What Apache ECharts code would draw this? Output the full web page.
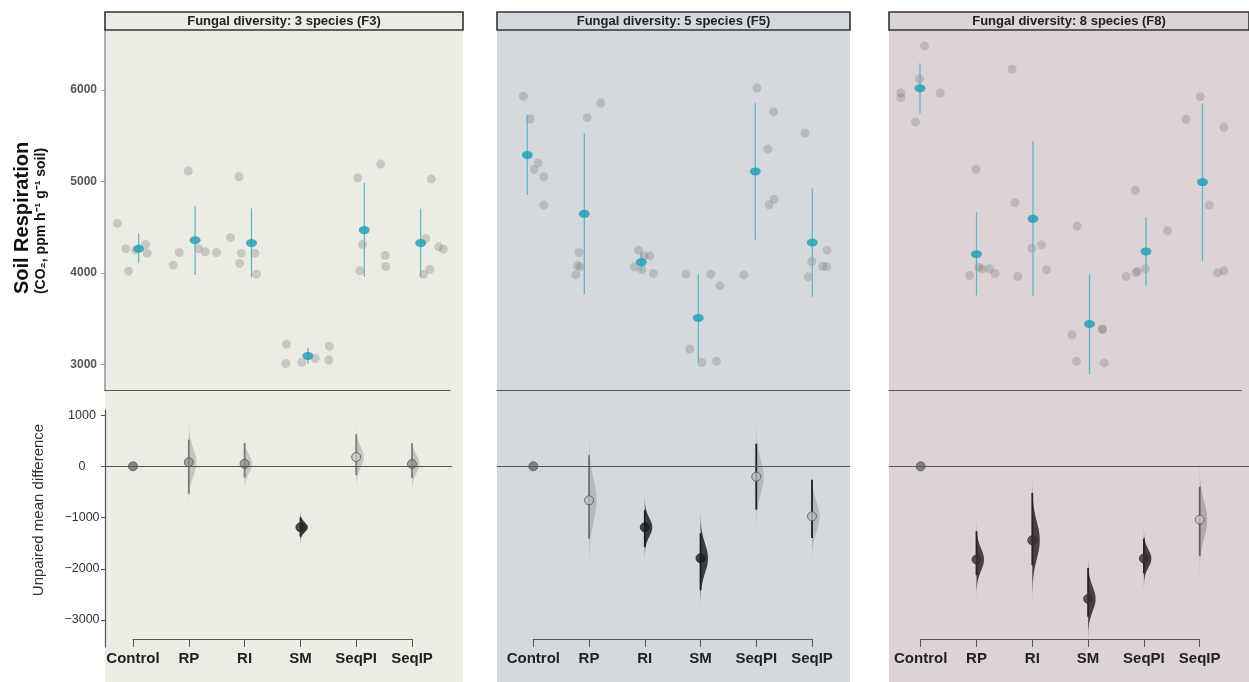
<!DOCTYPE html>
<html>
<head>
<meta charset="utf-8">
<script src="https://cdn.jsdelivr.net/npm/echarts@6/dist/echarts.min.js"></script>
<style>
    html, body { margin: 0; padding: 0; background: #fff; }
    #chart { width: 1249px; height: 682px; }
</style>
</head>
<body>
<div id="chart"></div>
<script>
var groups = ['Control', 'RP', 'RI', 'SM', 'SeqPI', 'SeqIP'];
var panelTitles = ['Fungal diversity: 3 species (F3)', 'Fungal diversity: 5 species (F5)', 'Fungal diversity: 8 species (F8)'];
var topTicks = [3000, 4000, 5000, 6000];
var diffTicks = [1000, 0, -1000, -2000, -3000];

// raw replicates (CO2, ppm h-1 g-1 soil), one list per group
var f3Values = [
    [4543, 4266, 4022, 4251, 4313, 4218],
    [4087, 4226, 5115, 4266, 4233, 4226],
    [4390, 5053, 4106, 4218, 4218, 3989],
    [3224, 3013, 3027, 3067, 3052, 3202],
    [5042, 4025, 4313, 5191, 4193, 4073],
    [3985, 4379, 4040, 5027, 4287, 4262]
];
// horizontal spread of the swarm (in category widths)
var f3Jitter = [
    [-0.38, -0.23, -0.18, -0.05, 0.12, 0.15],
    [-0.39, -0.28, -0.12, 0.06, 0.18, 0.38],
    [-0.37, -0.22, -0.21, -0.18, 0.06, 0.09],
    [-0.38, -0.39, -0.11, 0.13, 0.37, 0.38],
    [-0.12, -0.08, -0.03, 0.29, 0.37, 0.38],
    [0.05, 0.09, 0.16, 0.19, 0.32, 0.40]
];
var f3Mean = [4266, 4360, 4328, 3096, 4470, 4328];
var f3Low = [4107, 3981, 3953, 3013, 3960, 3960];
var f3High = [4434, 4732, 4707, 3184, 4984, 4703];
var f3Diff = [0, 80, 50, -1190, 181, 45];
var f3DiffLow = [0, -533, -220, -1370, -175, -230];
var f3DiffHigh = [0, 520, 454, -1000, 624, 448];

var f5Values = [
    [5931, 5683, 5202, 5133, 5053, 4743],
    [4226, 4069, 4080, 3981, 5698, 5858],
    [4251, 4189, 4189, 4069, 4040, 3996],
    [3989, 3989, 3861, 3172, 3024, 3038],
    [3981, 6022, 5763, 5355, 4805, 4747],
    [5530, 4251, 4128, 4073, 4073, 3960]
];
var f5Jitter = [
    [-0.07, 0.05, 0.19, 0.12, 0.29, 0.29],
    [-0.09, -0.07, -0.12, -0.15, 0.05, 0.29],
    [-0.05, 0.05, 0.15, -0.12, 0.01, 0.21],
    [-0.22, 0.22, 0.38, -0.15, 0.06, 0.32],
    [-0.20, 0.03, 0.32, 0.22, 0.33, 0.24],
    [-0.13, 0.26, -0.01, 0.18, 0.25, -0.07]
];
var f5Mean = [5290, 4648, 4120, 3511, 5111, 4335];
var f5Low = [4852, 3770, 4025, 3030, 4368, 3741];
var f5High = [5727, 5527, 4222, 3989, 5861, 4925];
var f5Diff = [0, -663, -1190, -1794, -202, -975];
var f5DiffLow = [0, -1410, -1573, -2418, -845, -1398];
var f5DiffHigh = [0, 214, -858, -1307, 442, -260];

var f8Values = [
    [6481, 6120, 5967, 5916, 5967, 5650],
    [5133, 3975, 4065, 4047, 4047, 3996],
    [6226, 4768, 4270, 4309, 4036, 3964],
    [4514, 3325, 3384, 3390, 3038, 3020],
    [4904, 4462, 4047, 4022, 4003, 3964],
    [5927, 5680, 5592, 4743, 4003, 4025]
];
var f8Jitter = [
    [0.08, -0.01, -0.34, -0.34, 0.36, -0.08],
    [-0.01, -0.12, 0.04, 0.10, 0.23, 0.33],
    [-0.37, -0.32, -0.02, 0.15, 0.24, -0.27],
    [-0.22, -0.31, 0.23, 0.23, -0.23, 0.26],
    [-0.19, 0.38, -0.01, -0.15, -0.18, -0.35],
    [-0.04, -0.29, 0.38, 0.12, 0.27, 0.38]
];
var f8Mean = [6019, 4207, 4593, 3446, 4237, 4994];
var f8Low = [5745, 3756, 3748, 2896, 3861, 4134];
var f8High = [6292, 4663, 5439, 3989, 4609, 5854];
var f8Diff = [0, -1820, -1443, -2587, -1800, -1040];
var f8DiffLow = [0, -2126, -1930, -2938, -2093, -1748];
var f8DiffHigh = [0, -1268, -520, -1983, -1410, -403];

var FONT = '"Liberation Sans", Arial, sans-serif';

// layout + look of each facet
var panels = [
    {
        values: f3Values, jitter: f3Jitter, mean: f3Mean, low: f3Low, high: f3High,
        diff: f3Diff, diffLow: f3DiffLow, diffHigh: f3DiffHigh,
        bg: '#ecebe4', x0: 105, x1: 463,
        top: { left: 105, right: 450, c0: 138.7, step: 56.4 },
        bot: { left: 105, right: 452, c0: 133, step: 55.8 },
        tone: [null, 'light', 'light', 'dark', 'pale', 'light'],
        dark: '#3b3b39', light: 'rgba(150,150,145,0.45)', lineLight: '#7b7b78', lineDark: '#333',
        dotLight: '#8f8f8b', dotPale: '#c9c9c3', dotDark: '#262626'
    },
    {
        values: f5Values, jitter: f5Jitter, mean: f5Mean, low: f5Low, high: f5High,
        diff: f5Diff, diffLow: f5DiffLow, diffHigh: f5DiffHigh,
        bg: '#d5d9dd', x0: 497, x1: 850,
        top: { left: 497, right: 850, c0: 527.3, step: 57 },
        bot: { left: 497, right: 850, c0: 533.3, step: 55.74 },
        tone: [null, 'pale', 'dark', 'dark', 'pale', 'pale'],
        dark: '#3a3e42', light: 'rgba(150,152,155,0.5)', lineLight: '#6f7173', lineDark: '#1f1f1f',
        dotLight: '#9a9c9e', dotPale: '#b9bbbd', dotDark: '#1c1c1c'
    },
    {
        values: f8Values, jitter: f8Jitter, mean: f8Mean, low: f8Low, high: f8High,
        diff: f8Diff, diffLow: f8DiffLow, diffHigh: f8DiffHigh,
        bg: '#dcd3d6', x0: 889, x1: 1249,
        top: { left: 889, right: 1241, c0: 920, step: 56.5 },
        bot: { left: 889, right: 1249, c0: 920.7, step: 55.8 },
        tone: [null, 'dark', 'dark', 'dark', 'dark', 'pale'],
        dark: '#4c3e44', light: 'rgba(140,125,130,0.5)', lineLight: '#6a5c61', lineDark: '#2a2024',
        dotLight: '#9a8e92', dotPale: '#c8bec2', dotDark: '#3a2c32'
    }
];

var TOP_Y = 30, TOP_H = 360;      // swarm plot
var BOT_Y = 410, BOT_H = 237;     // mean difference plot
var W = 1249;

var grid = [], xAxis = [], yAxis = [], series = [], graphic = [];

function violinItem(params, api) {
    var x = api.value(0), m = api.value(1), lo = api.value(2), hi = api.value(3);
    var sd = (hi - lo) / 3.92;
    var pts = [];
    for (var k = -38; k <= 38; k++) {
        var t = k / 10;
        var p = api.coord([x, m + t * sd]);
        pts.push([p[0] + 7.5 * Math.exp(-t * t / 2), p[1]]);
    }
    var b = api.coord([x, m - 3.8 * sd]);
    var a = api.coord([x, m + 3.8 * sd]);
    pts.unshift(b);
    pts.push(a);
    return { type: 'polygon', shape: { points: pts }, style: { fill: api.visual('color') } };
}

function rangeItem(width) {
    return function (params, api) {
        var a = api.coord([api.value(0), api.value(1)]);
        var b = api.coord([api.value(0), api.value(2)]);
        return {
            type: 'line',
            shape: { x1: a[0], y1: a[1], x2: b[0], y2: b[1] },
            style: { stroke: api.visual('color'), lineWidth: width }
        };
    };
}

function plain(v) {
    return v < 0 ? '\u2212' + Math.abs(v) : String(v);
}

panels.forEach(function (p, k) {
    var gTop = 3 * k, gBot = 3 * k + 1, gCat = 3 * k + 2;

    graphic.push({
        type: 'rect', z: -10,
        shape: { x: p.x0, y: 30, width: p.x1 - p.x0, height: 682 - 30 },
        style: { fill: p.bg }
    });
    graphic.push({
        type: 'rect', z: 5,
        shape: { x: p.x0, y: 12, width: p.x1 - p.x0, height: 18 },
        style: { fill: p.bg, stroke: '#333', lineWidth: 1.6 }
    });
    graphic.push({
        type: 'text', z: 6,
        x: (p.x0 + Math.min(p.x1, W)) / 2, y: 21,
        style: {
            text: panelTitles[k], fill: '#222', font: 'bold 13px ' + FONT,
            textAlign: 'center', textVerticalAlign: 'middle'
        }
    });

    // --- swarm plot
    grid.push({ left: p.top.left, top: TOP_Y, width: p.top.right - p.top.left, height: TOP_H });
    xAxis.push({
        type: 'value', gridIndex: gTop,
        min: (p.top.left - p.top.c0) / p.top.step,
        max: (p.top.right - p.top.c0) / p.top.step,
        axisLine: { show: true, onZero: false, lineStyle: { color: '#555', width: 1.2 } },
        axisTick: { show: false }, axisLabel: { show: false }, splitLine: { show: false }
    });
    yAxis.push({
        type: 'value', gridIndex: gTop, min: 2724, max: 6655,
        show: k === 0,
        axisLine: { show: true, onZero: false, lineStyle: { color: '#9a9a9a', width: 1.6 } },
        axisTick: { show: true, length: 4, customValues: topTicks, lineStyle: { color: '#9a9a9a' } },
        axisLabel: {
            customValues: topTicks, color: '#555', fontWeight: 'bold', fontSize: 12,
            fontFamily: FONT, margin: 8, formatter: plain
        },
        splitLine: { show: false }
    });

    var pts = [];
    p.values.forEach(function (vals, i) {
        vals.forEach(function (v, j) { pts.push([i + p.jitter[i][j], v]); });
    });
    series.push({
        type: 'scatter', xAxisIndex: gTop, yAxisIndex: gTop, data: pts,
        symbolSize: 9, clip: false,
        itemStyle: { color: 'rgba(112,112,110,0.36)' }
    });
    series.push({
        type: 'custom', xAxisIndex: gTop, yAxisIndex: gTop, z: 3,
        renderItem: rangeItem(1.2),
        itemStyle: { color: '#56b6c4' },
        data: p.mean.map(function (m, i) { return [i, p.low[i], p.high[i]]; })
    });
    series.push({
        type: 'scatter', xAxisIndex: gTop, yAxisIndex: gTop, z: 4,
        symbol: 'circle', symbolSize: [11, 8],
        itemStyle: { color: '#1c9cb4' },
        data: p.mean.map(function (m, i) { return [i, m]; })
    });

    // --- mean difference plot
    grid.push({ left: p.bot.left, top: BOT_Y, width: p.bot.right - p.bot.left, height: BOT_H });
    xAxis.push({
        type: 'value', gridIndex: gBot, show: false,
        min: (p.bot.left - p.bot.c0) / p.bot.step,
        max: (p.bot.right - p.bot.c0) / p.bot.step
    });
    yAxis.push({
        type: 'value', gridIndex: gBot, min: -3526, max: 1099,
        show: k === 0,
        axisLine: { show: true, onZero: false, lineStyle: { color: '#555', width: 1.2 } },
        axisTick: { show: true, length: 4, customValues: diffTicks, lineStyle: { color: '#555' } },
        axisLabel: {
            customValues: diffTicks, color: '#333', fontSize: 12.5, fontFamily: FONT,
            margin: 23, align: 'center', formatter: plain
        },
        splitLine: { show: false }
    });

    // category axis (only spans first to last group)
    grid.push({ left: p.bot.c0, top: BOT_Y, width: 5 * p.bot.step, height: BOT_H });
    xAxis.push({
        type: 'category', gridIndex: gCat, data: groups, boundaryGap: false, offset: -8,
        axisLine: { show: true, onZero: false, lineStyle: { color: '#555', width: 1.2 } },
        axisTick: { show: true, length: 8, interval: 0, lineStyle: { color: '#555' } },
        axisLabel: {
            color: '#222', fontWeight: 'bold', fontSize: 15, fontFamily: FONT, margin: 12,
            interval: 0, hideOverlap: false
        }
    });
    yAxis.push({ type: 'value', gridIndex: gCat, show: false });

    var violins = [], ranges = [], dots = [];
    p.diff.forEach(function (d, i) {
        var tone = p.tone[i];
        if (tone) {
            violins.push({
                value: [i, d, p.diffLow[i], p.diffHigh[i]],
                itemStyle: { color: tone === 'dark' ? p.dark : p.light }
            });
            ranges.push({
                value: [i, p.diffLow[i], p.diffHigh[i]],
                itemStyle: { color: tone === 'dark' || (k === 1 && i > 3) ? p.lineDark : p.lineLight }
            });
        }
        var col = tone === 'dark' ? p.dotDark : tone === 'pale' ? p.dotPale : tone === 'light' ? p.dotLight : '#6c6c6a';
        dots.push({
            value: [i, d],
            itemStyle: { color: col, borderColor: tone === 'dark' ? p.dotDark : '#555', borderWidth: 1 }
        });
    });

    series.push({
        type: 'custom', xAxisIndex: gBot, yAxisIndex: gBot, z: 2,
        renderItem: violinItem, data: violins
    });
    series.push({
        type: 'custom', xAxisIndex: gBot, yAxisIndex: gBot, z: 3,
        renderItem: rangeItem(1.8), data: ranges
    });
    series.push({
        type: 'scatter', xAxisIndex: gBot, yAxisIndex: gBot, z: 4,
        symbolSize: 9, data: dots,
        markLine: {
            silent: true, symbol: 'none', label: { show: false },
            lineStyle: { color: '#555', width: 1.2, type: 'solid' },
            data: [{ yAxis: 0 }]
        }
    });
});

graphic.push({
    type: 'text', x: 22, y: 218, rotation: Math.PI / 2,
    style: {
        text: 'Soil Respiration', fill: '#111', font: 'bold 20px ' + FONT,
        textAlign: 'center', textVerticalAlign: 'middle'
    }
});
graphic.push({
    type: 'text', x: 41, y: 221, rotation: Math.PI / 2,
    style: {
        text: '(CO\u2082, ppm h\u207B\u00B9 g\u207B\u00B9 soil)', fill: '#111', font: 'bold 14px ' + FONT,
        textAlign: 'center', textVerticalAlign: 'middle'
    }
});
graphic.push({
    type: 'text', x: 39, y: 510, rotation: Math.PI / 2,
    style: {
        text: 'Unpaired mean difference', fill: '#333', font: '15px ' + FONT,
        textAlign: 'center', textVerticalAlign: 'middle'
    }
});

var chart = echarts.init(document.getElementById('chart'));
chart.setOption({
    animation: false,
    backgroundColor: '#ffffff',
    grid: grid,
    xAxis: xAxis,
    yAxis: yAxis,
    graphic: graphic,
    series: series
});
</script>
</body>
</html>
